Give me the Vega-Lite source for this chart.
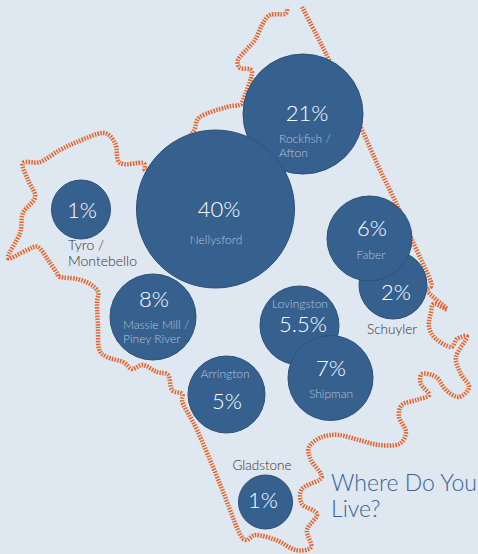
{
"$schema":"https://vega.github.io/schema/vega-lite/v6.json",
"autosize":"none",
"padding":0,
"width":478,"height":554,"background":"#dfe7f0",
"view":{"stroke":null},
"config":{"axis":{"disable":true}},
"datasets":{
"outline":[
{"i":1,"x":302,"y":7},{"i":2,"x":316,"y":34},{"i":3,"x":329,"y":60},{"i":4,"x":345,"y":95},{"i":5,"x":362,"y":130},{"i":6,"x":380,"y":170},{"i":7,"x":398,"y":207},{"i":8,"x":412,"y":240},{"i":9,"x":429,"y":277},{"i":10,"x":431,"y":286},{"i":11,"x":428,"y":292},{"i":12,"x":447,"y":309},{"i":13,"x":434,"y":304},{"i":14,"x":431,"y":312},{"i":15,"x":429,"y":327},{"i":16,"x":436,"y":339},{"i":17,"x":451,"y":347},{"i":18,"x":457,"y":339},{"i":19,"x":467,"y":337},{"i":20,"x":456,"y":357},{"i":21,"x":461,"y":374},{"i":22,"x":469,"y":387},{"i":23,"x":459,"y":397},{"i":24,"x":446,"y":390},{"i":25,"x":436,"y":377},{"i":26,"x":422,"y":374},{"i":27,"x":421,"y":384},{"i":28,"x":429,"y":395},{"i":29,"x":416,"y":400},{"i":30,"x":402,"y":405},{"i":31,"x":399,"y":417},{"i":32,"x":406,"y":432},{"i":33,"x":399,"y":444},{"i":34,"x":379,"y":445},{"i":35,"x":359,"y":440},{"i":36,"x":339,"y":435},{"i":37,"x":322,"y":437},{"i":38,"x":309,"y":447},{"i":39,"x":311,"y":460},{"i":40,"x":321,"y":474},{"i":41,"x":319,"y":480},{"i":42,"x":302,"y":489},{"i":43,"x":302,"y":504},{"i":44,"x":317,"y":514},{"i":45,"x":307,"y":530},{"i":46,"x":311,"y":547},{"i":47,"x":296,"y":550},{"i":48,"x":276,"y":540},{"i":49,"x":256,"y":535},{"i":50,"x":246,"y":540},{"i":51,"x":238,"y":530},{"i":52,"x":220,"y":484},{"i":53,"x":197,"y":430},{"i":54,"x":183,"y":404},{"i":55,"x":182,"y":394},{"i":56,"x":172,"y":390},{"i":57,"x":168,"y":375},{"i":58,"x":157,"y":372},{"i":59,"x":143,"y":365},{"i":60,"x":132,"y":369},{"i":61,"x":123,"y":362},{"i":62,"x":107,"y":357},{"i":63,"x":99,"y":349},{"i":64,"x":98,"y":327},{"i":65,"x":97,"y":304},{"i":66,"x":98,"y":292},{"i":67,"x":90,"y":284},{"i":68,"x":77,"y":279},{"i":69,"x":60,"y":277},{"i":70,"x":57,"y":273},{"i":71,"x":48,"y":260},{"i":72,"x":38,"y":247},{"i":73,"x":27,"y":250},{"i":74,"x":8,"y":258},{"i":75,"x":20,"y":233},{"i":76,"x":23,"y":213},{"i":77,"x":35,"y":197},{"i":78,"x":28,"y":180},{"i":79,"x":23,"y":163},{"i":80,"x":40,"y":162},{"i":81,"x":60,"y":150},{"i":82,"x":77,"y":142},{"i":83,"x":103,"y":133},{"i":84,"x":115,"y":143},{"i":85,"x":120,"y":163},{"i":86,"x":143,"y":163},{"i":87,"x":147,"y":170},{"i":88,"x":175,"y":150},{"i":89,"x":193,"y":132},{"i":90,"x":200,"y":117},{"i":91,"x":227,"y":107},{"i":92,"x":239,"y":105},{"i":93,"x":243,"y":100},{"i":94,"x":252,"y":72},{"i":95,"x":240,"y":68},{"i":96,"x":238,"y":60},{"i":97,"x":246,"y":50},{"i":98,"x":255,"y":40},{"i":99,"x":262,"y":25},{"i":100,"x":270,"y":15},{"i":101,"x":285,"y":14},{"i":102,"x":287,"y":8}
],
"places":[
{"place":"Rockfish / Afton","pct":21,"x":303,"y":114},
{"place":"Nellysford","pct":40,"x":215.5,"y":209},
{"place":"Tyro / Montebello","pct":1.3,"x":81,"y":209.5},
{"place":"Schuyler","pct":2,"x":393,"y":285},
{"place":"Faber","pct":6,"x":369.5,"y":238.5},
{"place":"Massie Mill / Piney River","pct":8,"x":153,"y":317},
{"place":"Lovingston","pct":5.5,"x":299.5,"y":325.5},
{"place":"Shipman","pct":7,"x":330.5,"y":378},
{"place":"Arrington","pct":5,"x":226.5,"y":394.5},
{"place":"Gladstone","pct":0.9,"x":265.5,"y":502}
],
"pctLabels":[
{"t":"21%","x":307,"y":114},{"t":"40%","x":219,"y":210},{"t":"1%","x":82,"y":211},{"t":"6%","x":372,"y":229},{"t":"2%","x":396,"y":293},{"t":"8%","x":154,"y":300},{"t":"5.5%","x":303,"y":325},{"t":"7%","x":331,"y":369},{"t":"5%","x":227,"y":402},{"t":"1%","x":263,"y":501}
],
"innerCenter":[
{"t":"Nellysford","x":216,"y":240},{"t":"Faber","x":371,"y":255},{"t":"Lovingston","x":300,"y":304},{"t":"Arrington","x":225,"y":374},{"t":"Shipman","x":331,"y":394}
],
"innerLeft":[
{"t":"Rockfish /","x":279,"y":139},{"t":"Afton","x":279,"y":153},{"t":"Massie Mill /","x":123,"y":325},{"t":"Piney River","x":123,"y":339}
],
"outCenter":[
{"t":"Schuyler","x":392,"y":330},{"t":"Gladstone","x":262,"y":466}
],
"outLeft":[
{"t":"Tyro /","x":68,"y":246},{"t":"Montebello","x":68,"y":262}
],
"title":[
{"t":"Where Do You","x":331,"y":484},{"t":"Live?","x":331,"y":510}
]
},
"encoding":{
"x":{"field":"x","type":"quantitative","scale":{"domain":[0,478],"nice":false,"zero":false}},
"y":{"field":"y","type":"quantitative","scale":{"domain":[554,0],"nice":false,"zero":false}}
},
"layer":[
{"data":{"name":"outline"},"mark":{"type":"line","interpolate":"cardinal","color":"#e2652a","strokeWidth":4.5,"strokeDash":[1.5,1.3],"clip":false},"encoding":{"order":{"field":"i","type":"quantitative"}}},
{"data":{"name":"places"},"mark":{"type":"point","filled":true,"shape":"circle","color":"#36618f","opacity":1,"stroke":"#2c5078","strokeWidth":1},
"encoding":{"size":{"field":"pct","type":"quantitative","legend":null,"scale":{"type":"linear","domain":[0.9,1.3,2,5,5.5,6,7,8,21,40],"range":[2916,3481,4624,5929,6241,7225,7225,7396,14400,24964]}}}},
{"data":{"name":"pctLabels"},"mark":{"type":"text","font":"Lato","fontWeight":300,"fontSize":22,"color":"#ffffff","baseline":"middle","align":"center"},"encoding":{"text":{"field":"t"}}},
{"data":{"name":"innerCenter"},"mark":{"type":"text","font":"Lato","fontWeight":300,"fontSize":12,"color":"#b4c3d6","baseline":"middle","align":"center"},"encoding":{"text":{"field":"t"}}},
{"data":{"name":"innerLeft"},"mark":{"type":"text","font":"Lato","fontWeight":300,"fontSize":12,"color":"#b4c3d6","baseline":"middle","align":"left"},"encoding":{"text":{"field":"t"}}},
{"data":{"name":"outCenter"},"mark":{"type":"text","font":"Lato","fontWeight":300,"fontSize":13.5,"color":"#333333","baseline":"middle","align":"center"},"encoding":{"text":{"field":"t"}}},
{"data":{"name":"outLeft"},"mark":{"type":"text","font":"Lato","fontWeight":300,"fontSize":14,"color":"#333333","baseline":"middle","align":"left"},"encoding":{"text":{"field":"t"}}},
{"data":{"name":"title"},"mark":{"type":"text","font":"Lato","fontWeight":300,"fontSize":23,"color":"#3a6496","baseline":"middle","align":"left"},"encoding":{"text":{"field":"t"}}}
]
}
